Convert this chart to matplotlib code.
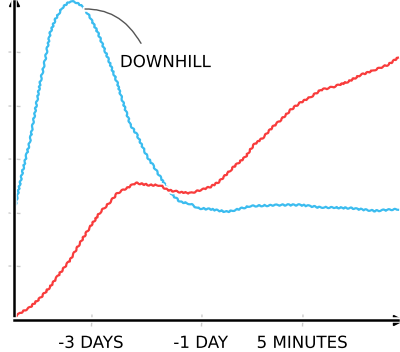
import matplotlib
matplotlib.use("Agg")
from matplotlib import pyplot as plt

# blue series
blue_x = [0, 2.3, 4.2, 6.8, 8.1, 9.4, 10.7, 12.5, 14.6, 16.4, 18.0, 19.8, 21.9, 24.3,
          26.9, 28.2, 30.3, 32.1, 34.7, 36.3, 38.1, 40.0, 41.8, 43.3, 46.0, 47.8, 51.2,
          55.6, 61.6, 70.2, 74.7, 79.1, 87.7, 93.7, 100]
blue_y = [2.02, 2.80, 3.36, 4.43, 4.86, 5.36, 5.61, 5.83, 5.96, 5.93, 5.85, 5.66, 5.36, 4.92,
          4.43, 4.11, 3.65, 3.45, 3.05, 2.88, 2.67, 2.45, 2.30, 2.21, 2.17, 2.09, 2.07,
          2.02, 2.13, 2.15, 2.15, 2.11, 2.09, 2.04, 2.07]

# red series
red_x = [0, 1.6, 4.2, 6.8, 9.4, 12.0, 14.6, 17.2, 19.8, 22.5, 25.1, 26.9, 29.5, 31.6,
         35.5, 38.1, 39.9, 43.3, 46.0, 48.6, 51.2, 53.3, 56.4, 57.2, 60.3, 62.4, 65.0,
         67.4, 69.5, 72.1, 74.7, 77.3, 79.9, 83.3, 86.9, 90.3, 93.7, 97.4, 100]
red_y = [0.04, 0.13, 0.24, 0.41, 0.62, 0.88, 1.12, 1.44, 1.74, 2.02, 2.21, 2.37, 2.47, 2.56,
         2.52, 2.52, 2.43, 2.39, 2.37, 2.43, 2.49, 2.58, 2.80, 2.86, 3.05, 3.27, 3.42,
         3.61, 3.74, 3.93, 4.07, 4.17, 4.30, 4.36, 4.45, 4.58, 4.67, 4.77, 4.90]

tick_pos = [20, 48.6, 75]
tick_labels = ['-3 DAYS', '-1 DAY', '5 MINUTES']

plt.xkcd()
plt.rcParams['font.family'] = ['DejaVu Sans']

fig = plt.figure(figsize=(4, 3.52), dpi=100)
ax = fig.add_axes([0.035, 0.0909, 0.96, 0.906])

lb, = ax.plot(blue_x, blue_y, color='#3bbcef', lw=1.6, clip_on=False)
lr, = ax.plot(red_x, red_y, color='#f83c3c', lw=1.6, clip_on=False)
for l in (lb, lr):
    l.set_sketch_params(0.7, 6, 2)

ax.set_xlim(0, 100)
ax.set_ylim(0, 5.96)

ax.spines['top'].set_visible(False)
ax.spines['right'].set_visible(False)
for side in ('left', 'bottom'):
    ax.spines[side].set_linewidth(1.8)
    ax.spines[side].set_sketch_params(None)

# arrow heads on the axes
for pos, mk, tr in [((1, 0), '>', ax.get_yaxis_transform()),
                    ((0, 1), '^', ax.get_xaxis_transform())]:
    m, = ax.plot(*pos, mk, color='k', ms=7, transform=tr, clip_on=False)
    m.set_sketch_params(None)
    m.set_path_effects([])

ax.set_xticks(tick_pos)
ax.set_xticklabels(tick_labels, fontsize=12)
ax.set_yticks([1, 2, 3, 4, 5])
ax.set_yticklabels([])
ax.tick_params(direction='inout', length=8, width=1, color='#cccccc', pad=6)

ax.annotate('DOWNHILL', xy=(18.5, 5.83), xytext=(39.4, 4.82), fontsize=12,
            ha='center', va='center',
            arrowprops=dict(arrowstyle='-', color='#555555', lw=1,
                            relpos=(0.3, 1.0), shrinkA=6, shrinkB=0,
                            connectionstyle='angle3,angleA=120,angleB=0'))

fig.savefig('out.png', dpi=100, facecolor='white')
